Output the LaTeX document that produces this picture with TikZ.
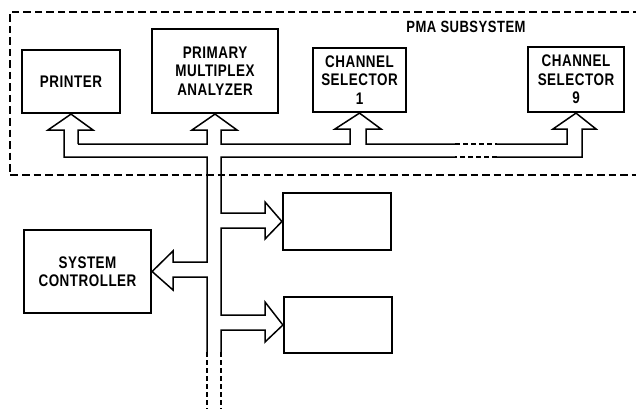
\documentclass[tikz,border=0pt]{standalone}
\usepackage{fontspec}
\newfontfamily\lbl{Liberation Sans}[FakeStretch=0.8,LetterSpace=3]
\begin{document}
\begin{tikzpicture}[x=1pt,y=-1pt,
  box/.style={draw,line width=2.2pt,inner sep=0pt,align=center,
    font=\lbl\bfseries\fontsize{16.8}{18.3}\selectfont},
  title/.style={inner sep=0pt,font=\lbl\bfseries\fontsize{16.3}{18.3}\selectfont},
  bus/.style={line width=1.5pt,line join=miter},
  busdash/.style={line width=1.5pt,dash pattern=on 5pt off 3pt},
  border/.style={line width=2.2pt,dash pattern=on 7.5pt off 4pt}]
\useasboundingbox (0,0) rectangle (636,409);
% subsystem frame (open at right edge)
\draw[border] (640,12) -- (10,12) -- (10,175) -- (640,175);
\node[title] (sub) at (466,27) {PMA SUBSYSTEM};
% boxes
\node[box,minimum width=98pt,minimum height=63pt] (prn) at (71,81.5) {PRINTER};
\node[box,minimum width=126pt,minimum height=84pt] (pma) at (215,71) {PRIMARY\\MULTIPLEX\\ANALYZER};
\node[box,minimum width=93pt,minimum height=64pt] (cs1) at (359.5,80) {CHANNEL\\SELECTOR\\1};
\node[box,minimum width=96pt,minimum height=65pt] (cs9) at (576,79.5) {CHANNEL\\SELECTOR\\9};
\node[box,minimum width=127pt,minimum height=83pt] (sc) at (87.5,271.5) {SYSTEM\\CONTROLLER};
\node[box,minimum width=108pt,minimum height=57pt] (b1) at (337,221.5) {};
\node[box,minimum width=108pt,minimum height=56pt] (b2) at (338,325) {};
% bus outline: outer-left line
\draw[bus] (78,144) -- (78,130) -- (93,130) -- (prn.south) -- (48,130) -- (64,130)
  -- (64,157) -- (207,157) -- (207,262) -- (173,262) -- (173,251) -- (sc.east)
  -- (173,290) -- (173,277) -- (207,277) -- (207,352);
\draw[busdash] (207,352) -- (207,409);
% bus outline: inner line
\draw[bus] (78,144) -- (207,144) -- (207,130) -- (192,130) -- (pma.south)
  -- (237,130) -- (221,130) -- (221,144) -- (350,144) -- (350,129) -- (335,129)
  -- (cs1.south) -- (381,129) -- (366,129) -- (366,144) -- (455,144);
\draw[busdash] (455,144) -- (497,144);
\draw[bus] (497,144) -- (567,144) -- (567,129) -- (553,129) -- (cs9.south)
  -- (596,129) -- (582,129) -- (582,157) -- (497,157);
\draw[busdash] (497,157) -- (455,157);
\draw[bus] (455,157) -- (221,157) -- (221,213) -- (265,213) -- (265,202) -- (b1.west)
  -- (265,239) -- (265,228) -- (221,228) -- (221,315) -- (265,315) -- (265,302)
  -- (b2.west) -- (265,342) -- (265,330) -- (221,330) -- (221,352);
\draw[busdash] (221,352) -- (221,409);
\end{tikzpicture}
\end{document}
